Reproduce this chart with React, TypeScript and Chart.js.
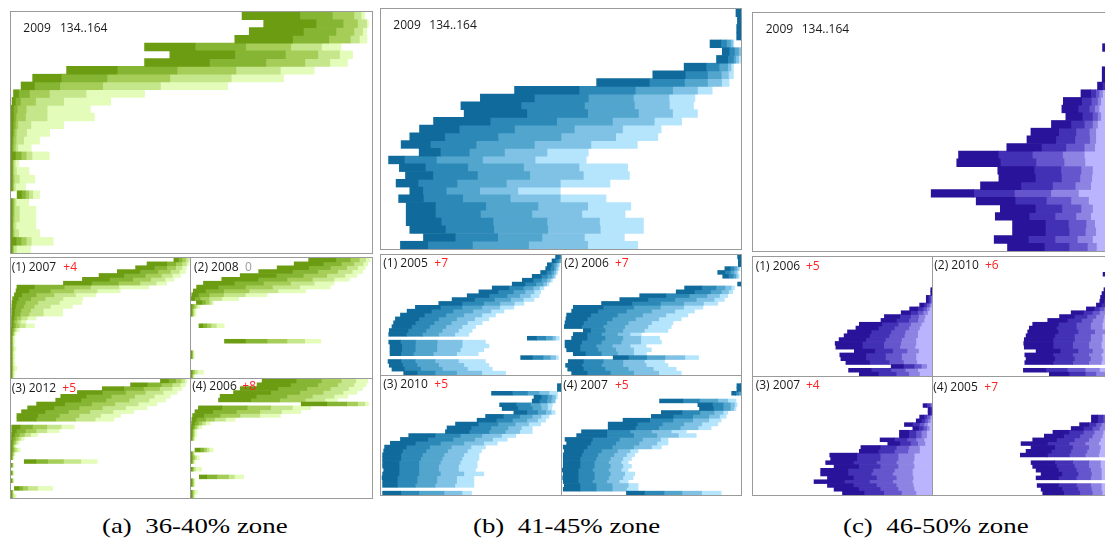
import React, { useEffect, useRef } from 'react';
import { Chart, registerables } from 'chart.js';

Chart.register(...registerables);

// Row categories: days 134..164 of the season, one bar per day.
const dayLabels: string[] = [];
for (let d = 134; d <= 164; d++) dayLabels.push(String(d));

// Each row holds six cumulative boundaries (five stacked layers); [] = no data for that day.
const greens = ['#6b9c12', '#86b533', '#a5cd58', '#c6e68c', '#e3fcb9'];
const blues = ['#106b9c', '#2c88b7', '#52a5cd', '#80c2e5', '#b4e5fd'];
const purples = ['#28139a', '#4331b5', '#6656cd', '#8d83e3', '#bab3fd'];

const zoneA_2009 = [
  [64, 80, 89, 95, 97, 98], [70, 84.5, 92, 96, 98.5, 99], [66, 81, 90, 95, 97.4, 98.5], [62, 78, 88, 94, 96.5, 98.6],
  [37, 51, 65, 77.5, 86, 91.4], [44, 62, 76, 85, 91, 94.6], [37, 55, 70.6, 81.4, 88.3, 93.2], [15.4, 29.4, 46, 62.3, 74.6, 84],
  [6, 13.9, 26.6, 44, 61, 75.5], [2.8, 6.5, 13.5, 25.4, 41.4, 60], [0.7, 2.1, 5.1, 10.6, 20.8, 37], [0.3, 1.2, 2.6, 6.8, 14.6, 27.6],
  [0, 0.7, 1.7, 4.2, 10, 22], [0, 0.7, 1.4, 4, 10, 23.1], [0, 0.6, 1.2, 1.9, 5.5, 14.6], [0, 0.5, 0.9, 1.5, 4.3, 10.7],
  [0, 0.4, 0.7, 1.4, 3.5, 7.9], [0, 0.3, 0.6, 1.2, 1.9, 5.6], [0, 1.2, 2.8, 4.2, 5.8, 10.6], [0, 0.3, 0.5, 0.7, 1.2, 2.1],
  [0, 0.3, 0.5, 0.7, 1.5, 5], [0, 0.3, 0.5, 0.9, 2.3, 6.6], [0, 0.3, 0.5, 0.7, 1.2, 4], [1.7, 2.9, 4, 4.9, 6, 7.9],
  [0, 0.3, 0.6, 0.9, 1.4, 4.9], [0, 0.3, 0.6, 0.9, 2.3, 6.9], [0, 0.3, 0.5, 0.9, 2.3, 6.9], [0, 0.3, 0.5, 0.7, 1.4, 6.9],
  [0, 0.3, 0.5, 0.9, 2.1, 7.9], [0, 1.4, 2.8, 4.2, 5.6, 11.7], [0, 0.3, 0.5, 0.7, 1.5, 5.4],
];
const zoneA_2007 = [
  [91, 93.5, 95.5, 97.5, 99, 100], [76, 87, 92, 95.5, 98, 99.5], [69.6, 80, 87, 92, 95.5, 98], [59.4, 72, 82, 89, 94, 97.4],
  [49.2, 63, 75, 84, 90, 94.6], [39.9, 55, 68, 78, 86, 91], [29.3, 45, 60, 72, 81, 87], [3.3, 13, 29.7, 44.5, 60.3, 77],
  [2.8, 10, 22, 35, 48, 61], [1.9, 6, 14, 24, 36, 47.3], [0.9, 4, 11, 19, 29, 40], [0.6, 3, 8, 15, 27, 39.5],
  [0.5, 2.5, 7, 13, 22, 34.3], [0.4, 2, 5.5, 11, 18, 28.8], [0.4, 2, 5, 10, 18, 28.8], [0.3, 1.5, 3, 5.5, 9, 14],
  [0.3, 1, 2, 3.5, 5.5, 8.3], [0.3, 1.2, 2.5, 4.5, 8, 13], [0.2, 0.6, 1.3, 2.2, 3, 4.6], [0, 0.5, 1, 1.5, 2, 2.8],
  [0, 0.3, 0.6, 0.9, 1.2, 1.9], [0, 0.3, 0.6, 0.9, 1.2, 2.2], [0, 0.3, 0.6, 0.9, 1.2, 1.9], [0, 0.3, 0.6, 1, 1.5, 2.8],
  [0, 0.3, 0.6, 0.9, 1.2, 1.9], [0, 0.3, 0.6, 0.9, 1.2, 2.2], [0, 0.3, 0.6, 0.9, 1.2, 1.9], [0, 0.3, 0.6, 0.9, 1.2, 2.2],
  [0, 0.3, 0.6, 1, 1.6, 3.3], [0, 0.3, 0.6, 0.9, 1.2, 2.2], [0, 0.3, 0.6, 0.9, 1.2, 1.9],
];
const zoneA_2008 = [
  [65, 80, 88, 93, 96.5, 99], [57, 73, 83, 90, 95, 97.6], [47.6, 65, 77, 86, 92, 96.3], [37.4, 56, 70, 81, 89, 94.8],
  [27.2, 47, 62, 75, 85, 91.7], [17, 37, 53, 67, 79, 87.4], [6.9, 24, 40, 55, 68, 79], [3.1, 15, 30, 45, 60, 76.9],
  [1.3, 8, 18, 32, 48, 63.3], [0.4, 4, 10, 18, 30, 42], [0.2, 2, 5, 10, 17, 26.3], [3, 6, 8, 10, 11.5, 12.4],
  [0, 0.5, 1.5, 2.5, 3.5, 5], [0, 0.4, 0.8, 1.2, 1.8, 2.8], [0, 0.4, 0.8, 1.2, 1.8, 2.8], [], [],
  [4.4, 6.5, 8.7, 11, 14, 18.3], [], [], [], [18.5, 30, 42, 53, 62.8, 71.7], [], [],
  [0, 0.3, 0.6, 0.9, 1.2, 1.8], [0, 0.3, 0.6, 0.9, 1.2, 1.8], [], [], [], [0, 0.5, 1, 2, 3.5, 6.9], [0, 0.3, 0.6, 0.9, 1.2, 1.8],
];
const zoneA_2012 = [
  [83.5, 88, 92, 95, 97, 98.3], [66.8, 76, 84, 90, 94.5, 97.4], [51, 63, 74, 83, 90, 95.5], [37.1, 51, 64, 75, 85, 92.8],
  [27.8, 42, 56, 69, 80, 89], [25, 39, 53, 66, 77, 86.3], [14.3, 30, 45, 58, 71, 81.6], [9.3, 24, 38, 51, 64, 76],
  [5.9, 19, 32, 44, 57, 68.6], [3.3, 15, 27, 38, 50, 61.2], [3.3, 14, 25, 36, 47, 57.5], [],
  [0.4, 5, 12, 20, 28, 35.3], [0.4, 3, 8, 14, 20, 26.9], [0.3, 2, 4.5, 7.5, 11, 14.8], [0.3, 1, 2.5, 4, 5.5, 7.4],
  [0.2, 0.8, 1.6, 2.5, 3.5, 4.6], [0, 0.5, 1, 1.5, 2, 2.8], [0, 0.6, 1.3, 2.2, 3.5, 5.2], [0, 0.4, 0.8, 1.2, 1.6, 2.2],
  [0, 0.3, 0.6, 0.9, 1.2, 1.6], [7.4, 13.9, 20.4, 29.3, 39, 48.2], [0, 0.3, 0.6, 0.9, 1.2, 1.6], [],
  [0, 0.3, 0.6, 0.9, 1.2, 1.6], [], [0, 0.3, 0.6, 0.9, 1.2, 1.6], [], [1.9, 4.5, 6.5, 9.3, 14.8, 23.2],
  [0, 0.3, 0.6, 0.9, 1.2, 1.6], [0, 0.3, 0.6, 1, 1.6, 2.8],
];
const zoneA_2006 = [
  [39.3, 58, 72, 83, 91, 97.6], [36.5, 55, 70, 81, 90, 96.7], [27.2, 48, 64, 77, 87, 94.8], [23.5, 44, 60, 73, 84, 91.7],
  [16.1, 36, 53, 67, 79, 86.5], [15.2, 33, 49, 63, 74, 80.9], [60.9, 75, 86, 92, 96, 98], [4.1, 17, 31, 44, 56, 66.1],
  [2.2, 12, 25, 38, 50, 60.6], [0.9, 7, 16, 27, 38, 49.4], [0.5, 3, 8, 13, 19, 24.4], [0.3, 2, 4, 6, 8, 10.6],
  [0.2, 1, 2, 3, 4, 5.9], [0, 0.5, 1, 1.5, 2, 3.1], [0, 0.5, 1, 1.5, 2, 3.1], [0, 0.4, 0.8, 1.2, 1.6, 2.2], [], [],
  [2.2, 5, 7, 8.5, 10, 12.2], [0, 0.4, 0.8, 1.2, 1.6, 2.2], [0, 0.5, 1, 2, 3, 4.6], [0, 0.4, 0.8, 1.2, 1.6, 2.2], [],
  [0, 0.5, 1, 1.5, 2.5, 5.9], [], [4.6, 8.7, 14.3, 20.7, 24, 29.1], [0, 0.4, 0.8, 1.2, 1.6, 2.2],
  [0, 0.4, 0.8, 1.2, 1.6, 2.2], [], [0, 0.4, 0.8, 1.2, 2, 3.5], [0, 0.4, 0.8, 1.2, 1.6, 2.2],
];

const zoneB_2009 = [
  [98.6, 100, 100, 100, 100, 100], [99, 100, 100, 100, 100, 100], [98.8, 100, 100, 100, 100, 100], [98.8, 100, 100, 100, 100, 100],
  [91.4, 94.4, 96, 97.1, 97.7, 98], [94.8, 96.7, 98.2, 99.3, 100, 100], [93.2, 96.3, 97.9, 98.5, 99.3, 100], [84.2, 90.3, 93.9, 96.3, 97.2, 97.9],
  [75.5, 84.5, 90.7, 94.5, 96.5, 97.9], [59.9, 74.5, 84.3, 90.7, 94.6, 96.7], [37.1, 55, 70.6, 81, 87.9, 92], [27.6, 42.6, 57.6, 70.1, 80, 87.2],
  [22.2, 38.9, 56.5, 70.4, 80.1, 86.8], [23.1, 40.5, 57.4, 71.5, 81, 87.9], [14.6, 30.3, 48.8, 64.3, 75.9, 83.5], [10.7, 21.7, 37.1, 53.7, 67.1, 77.8],
  [8, 17.7, 32.5, 50, 65.2, 76.9], [5.6, 13.7, 26.4, 42.6, 58.3, 71.2], [10.6, 16.5, 24.5, 34.3, 46.1, 57.6], [2.1, 6.5, 15.4, 28.2, 42.8, 57],
  [5.1, 12.3, 24.1, 39.6, 55, 68.5], [6.8, 14.4, 26.8, 41.3, 56.2, 69], [4.2, 10.3, 21.1, 34.8, 49.8, 63.6], [8, 11.6, 18.1, 27.4, 38, 49.8],
  [4.9, 11.8, 22.7, 35.9, 49.8, 62.5], [7, 15.1, 29.1, 43.6, 57.4, 69.4], [7, 15.1, 27.6, 41.9, 55.8, 67.8], [7, 16.7, 31.1, 46.1, 60.7, 72.9],
  [8, 17.9, 31.3, 46.3, 60.9, 72.9], [11.8, 20.6, 32.4, 44.7, 56.5, 67.6], [5.4, 13, 25.4, 41, 57.4, 71.3],
];
const zoneB_2005 = [
  [97, 99, 100, 100, 100, 100], [95, 97, 98.5, 99.5, 100, 100], [92.4, 94.5, 96, 97.5, 98.5, 99.3], [91.5, 94, 96, 97, 98, 98.9],
  [88.7, 92, 94.5, 96, 97.2, 98], [84, 89, 92.5, 95, 96.2, 97], [78.5, 84.5, 89, 92, 94, 95.2], [72.9, 80, 86, 90, 92, 93.3],
  [61.8, 71, 79, 84.5, 88, 90.5], [54.4, 65, 73.5, 80, 85, 88.7], [47.9, 60, 70, 77, 83, 87.8], [39.5, 52, 63, 72, 79, 85],
  [32.1, 45, 57, 66, 74, 79.4], [19.1, 33, 45, 56, 66, 73.8], [14.5, 28, 40, 51, 61, 68.3], [10.8, 24, 36, 46, 56, 63.6],
  [8, 21, 32, 42, 52, 59.9], [7, 19, 29.5, 39, 48, 56.2], [6.1, 17, 27, 36, 45, 52.5], [4.6, 15, 25, 34, 43, 50.6],
  [4.3, 14, 23, 32, 41, 48.8], [81.3, 86.3, 91.5, 95.2, 97, 99], [4.3, 10.8, 19.1, 31.2, 45.1, 58], [5, 11.5, 19, 31, 45, 60],
  [5, 11.5, 19, 31, 44, 57], [5, 11, 18, 29, 42, 54], [77.6, 84, 90, 94, 97, 98.5], [3.9, 11, 19, 30, 43, 58],
  [4.6, 12, 20, 32, 46, 59.9], [6.1, 13, 22, 34, 48, 61.8], [12.6, 20, 30, 42, 56, 69.2],
];
const zoneB_2006 = [
  [98.1, 100, 100, 100, 100, 100], [98.5, 100, 100, 100, 100, 100], [98.5, 100, 100, 100, 100, 100], [91, 94, 96, 97.5, 98.5, 99.5],
  [87, 91, 94, 96, 97.5, 98.5], [89.8, 93, 95.5, 97, 98, 99], [], [98.1, 100, 100, 100, 100, 100],
  [68.5, 78, 86, 91, 94.5, 96.3], [63.8, 74, 83, 89, 93, 95.4], [43.4, 58, 71, 81, 88, 92.6], [32.3, 48, 63, 75, 85, 90.7],
  [22.1, 39, 55, 68, 79, 87], [6.3, 23, 40, 55, 68, 78.7], [5.4, 20, 36, 50, 63, 74], [2.6, 16, 31, 45, 58, 70.3],
  [2.2, 14, 28, 41, 54, 66.6], [1.7, 12, 25, 37, 50, 62], [1.3, 11, 23, 35, 48, 61], [11.9, 16, 24, 34, 46, 59.2],
  [6.3, 14, 22, 31, 38, 44.3], [5.4, 14, 24, 34, 44, 54.5], [1.7, 11, 22, 33, 44, 55.5], [1.7, 10, 19, 28, 38, 47],
  [2.6, 10, 20, 30, 40, 49.9], [6.3, 13, 22, 31, 40, 47.1], [28.6, 37, 47.3, 57.5, 68.6, 76.3], [3.5, 12, 23, 34, 46, 57.3],
  [2, 11, 22, 34, 47, 59.2], [3.2, 12, 24, 37, 51, 63.8], [5.4, 14, 27, 40, 54, 66.6],
];
const zoneB_2010 = [
  [], [], [98, 100, 100, 100, 100, 100], [98, 100, 100, 100, 100, 100],
  [61.4, 72.9, 81.3, 87.8, 93.3, 98], [85, 89, 92.5, 95, 97, 98], [84, 88, 92, 94.5, 96.5, 97], [65.9, 75, 83, 88.5, 92.5, 95.2],
  [67.3, 76, 84, 89, 92.5, 94.8], [73.8, 81, 87, 91.5, 94.5, 96.7], [58.1, 68, 77, 84, 89, 93.3], [53.4, 64, 73, 81, 87, 91.5],
  [41.4, 54, 65, 74.5, 82, 88.7], [36.7, 50, 61, 70.5, 78, 84], [35.8, 49, 60, 69, 77, 84], [15.4, 30, 44, 56, 67, 74.8],
  [10.8, 26, 40, 52, 62, 70.1], [5.2, 19, 33, 46, 57, 64.6], [2, 14, 27, 39, 50, 58], [1.5, 12, 25, 37, 48, 55.8],
  [0.9, 11, 23, 35, 46, 54.4], [0.9, 11, 22, 34, 45, 54.4], [0.9, 10, 21, 33, 44, 53.4], [0.9, 10, 21, 32, 43, 53.4],
  [1.5, 10, 21, 32, 43, 52.5], [0.9, 10, 21, 33, 46, 57.1], [0.6, 9, 20, 31, 42, 51.6], [0.9, 9, 20, 31, 42, 51.6],
  [0.9, 9, 19, 30, 41, 51.6], [], [0.9, 11, 21, 35, 45, 50.3],
];
const zoneB_2007 = [
  [], [], [97.7, 100, 100, 100, 100, 100], [97.7, 100, 100, 100, 100, 100],
  [94.8, 97, 98.5, 100, 100, 100], [], [54.5, 67.5, 76.8, 87, 92.6, 97.2], [75.9, 84, 90, 94, 96.5, 97.8],
  [76.8, 84.5, 90, 94, 96, 97.2], [55.5, 67, 77, 85, 90, 92.6], [49.9, 62, 73, 82, 88, 91.7], [34.1, 49, 62, 73, 82, 88.9],
  [25.8, 42, 56, 68, 78, 87], [25.8, 41, 54, 66, 76, 83.3], [10.9, 25, 38, 50, 61, 69.4], [8.2, 25, 40, 53, 65, 75],
  [1.7, 17, 32, 45, 55, 59.2], [2.6, 16, 30, 43, 53, 59.2], [0.7, 14, 28, 40, 50, 55.5], [1.3, 12, 22, 31, 38, 42.5],
  [0.7, 11, 20, 29, 36, 40.6], [0.7, 10, 19, 27, 34, 38.8], [0.7, 10, 18, 26, 33, 36.9], [0.7, 10, 18, 27, 34, 38.8],
  [0.2, 9, 17, 26, 33, 36.9], [0.7, 9, 18, 27, 35, 40.6], [0.4, 9, 18, 26, 34, 39.7], [0.7, 9, 17, 25, 32, 36.9],
  [1.3, 10, 19, 28, 37, 42.5], [0.7, 10, 19, 28, 36, 42.5], [36, 46, 57, 67, 78, 88.9],
];

const zoneC_2009 = [
  [], [], [], [], [97.1, 99, 100, 100, 100, 100], [], [],
  [97, 98.5, 99.5, 100, 100, 100], [97, 98.5, 99.5, 100, 100, 100], [95.7, 97.1, 98, 99, 100, 100],
  [91.1, 93.8, 95.2, 96.1, 97.1, 100], [86.2, 91.3, 94, 95.7, 96.6, 100], [85.8, 90.3, 93.4, 94.9, 96.1, 100],
  [86.9, 91.5, 94.3, 95.7, 96.6, 100], [82.9, 88.3, 92, 94.3, 95.7, 100], [77.2, 84.9, 89.7, 93.4, 95.2, 100],
  [76.1, 84.1, 89.4, 93.5, 95.2, 100], [70.5, 80.1, 86.9, 92, 94.9, 100], [57.1, 68.1, 77.6, 86, 92, 100],
  [56.6, 68.7, 78.6, 86.4, 92.2, 100], [68, 78.1, 85.5, 91.1, 94.3, 100], [68.3, 78.4, 85.7, 90.8, 94.1, 100],
  [63.2, 74.4, 83.2, 89.5, 93.8, 100], [49.5, 61.3, 72.6, 82.7, 90.4, 100], [62, 72.8, 81.5, 88.3, 93.2, 100],
  [68.7, 78.4, 85.8, 91.1, 94.3, 100], [67.3, 76.7, 83.9, 89.7, 93.8, 100], [72.1, 81.2, 87.6, 92.5, 94.9, 100],
  [72.1, 81.2, 87.8, 92.3, 95.2, 100], [67, 76.5, 83.9, 90.1, 94.3, 100], [70.7, 80.9, 87.8, 92.9, 95.4, 100],
];
const zoneC_2006 = [
  [], [], [], [], [], [], [], [],
  [99.3, 100, 100, 100, 100, 100], [99.3, 100, 100, 100, 100, 100], [96.8, 98, 99, 99.5, 100, 100], [96.8, 98, 99, 99.5, 100, 100],
  [93.1, 95.5, 97, 98.5, 99.5, 100], [87.5, 92, 95, 97, 98.5, 100], [82.8, 88, 92, 95, 97.5, 100], [73.4, 82, 88, 92.5, 96, 100],
  [71.5, 80, 87, 92, 95.5, 100], [59.4, 72, 81, 88, 94, 100], [57.5, 70, 79, 87, 93, 100], [52.8, 66, 77, 85, 92, 100],
  [50.9, 65, 76, 84.5, 92, 100], [48.1, 63, 74, 83, 91, 100], [45.9, 61, 73, 82.5, 91, 100], [46.3, 61, 73, 82, 90.5, 100],
  [56.6, 68, 78, 86, 92.5, 100], [48.5, 63, 74, 83, 91, 100], [49.1, 63, 74, 83, 91, 100], [51.9, 65, 76, 84, 91.5, 100],
  [77.2, 84, 90, 94, 97, 100], [53.4, 66, 77, 85, 92, 100], [59.4, 70, 80, 87, 93, 100],
];
const zoneC_2010 = [
  [], [], [], [], [95, 97, 98, 99, 100, 100], [], [], [],
  [95.5, 97, 98, 99, 100, 100], [94.4, 96.5, 98, 99, 100, 100], [93.6, 96, 97.5, 98.5, 99.5, 100], [93.2, 95.5, 97, 98.5, 99.5, 100],
  [91.3, 94, 96, 97.5, 99, 100], [85.7, 90, 93, 95.5, 98, 100], [77.2, 84, 89, 93, 96.5, 100], [70.7, 79, 86, 91, 95.5, 100],
  [64.1, 75, 83, 89, 95, 100], [55.7, 70, 80, 88, 94.5, 100], [53.8, 69, 80, 88, 94.5, 100], [52.9, 69.8, 81, 90.3, 96, 100],
  [52, 68, 79, 88, 94.5, 100], [51, 67, 79, 88, 94.5, 100], [50.7, 67, 78, 87, 94, 100], [51, 67, 78, 87, 94, 100],
  [57.6, 71, 81, 89, 95, 100], [51.3, 67, 78, 87, 94, 100], [52, 68, 79, 88, 94.5, 100], [51.3, 67, 78, 87, 94, 100],
  [], [50.5, 63, 75, 85, 93, 100], [65, 76, 85, 91, 96, 100],
];
const zoneC_2007 = [
  [], [], [], [], [], [], [],
  [95, 97, 98.5, 99.5, 100, 100], [97.8, 99, 100, 100, 100, 100], [97.8, 99, 100, 100, 100, 100], [93.1, 95.5, 97, 98.5, 99.5, 100],
  [91.2, 94, 96, 97.5, 99, 100], [84.6, 89, 93, 95.5, 97.5, 100], [89.3, 92.5, 95, 97, 98.5, 100], [81.8, 87, 91, 94, 97, 100],
  [81.8, 87, 91, 94, 97, 100], [71, 79, 86, 91, 95.5, 100], [75.3, 82, 88, 92, 96, 100], [60.3, 71, 80, 87, 93, 100],
  [59.4, 70, 79, 86.5, 93, 100], [42.9, 58, 71, 81, 90, 100], [43.4, 58, 71, 81, 90, 100], [40.6, 56, 69, 80, 89.5, 100],
  [45.3, 59, 71, 81, 90, 100], [37.8, 53, 67, 79, 89, 100], [37.8, 53, 66, 78, 89, 100], [41.6, 56, 69, 80, 89.5, 100],
  [34.1, 51, 65, 78, 89, 100], [41.6, 56, 69, 80, 89.5, 100], [45.3, 59, 71, 81, 90, 100], [50, 62, 73, 83, 91, 100],
];
const zoneC_2005 = [
  [], [], [], [], [], [], [], [], [], [],
  [88.5, 92, 95, 97, 98.5, 100], [88.5, 92, 95, 97, 98.5, 100], [81.9, 87, 91, 94, 97, 100], [77.2, 84, 89, 93, 96.5, 100],
  [67, 76, 84, 90, 95, 100], [62.2, 73, 82, 89, 94.5, 100], [55.7, 69, 79, 87, 93.5, 100], [49.2, 64, 76, 85, 92.5, 100],
  [54.8, 68, 78, 87, 93.5, 100], [52, 66, 77, 86, 93, 100], [48.8, 64, 76, 85, 92.5, 100], [],
  [54.8, 68, 78, 87, 93.5, 100], [55.7, 69, 79, 87, 93.5, 100], [57.6, 70, 80, 88, 94, 100], [60.4, 72, 81, 88.5, 94, 100],
  [57.6, 70, 80, 88, 94, 100], [], [58.2, 70, 80, 88, 94, 100], [60.4, 72, 81, 88.5, 94, 100], [61.3, 73, 82, 89, 94.5, 100],
];

// Panel frames: [left, top, width, height] of each bordered box.
type Panel = { rows: number[][]; colors: string[]; box: [number, number, number, number] };
const panels: Panel[] = [
  { rows: zoneA_2009, colors: greens, box: [10, 11, 363, 243] },
  { rows: zoneA_2007, colors: greens, box: [10, 257, 181, 122] },
  { rows: zoneA_2008, colors: greens, box: [190, 257, 183, 122] },
  { rows: zoneA_2012, colors: greens, box: [10, 378, 181, 121] },
  { rows: zoneA_2006, colors: greens, box: [190, 378, 183, 121] },
  { rows: zoneB_2009, colors: blues, box: [380, 8, 362, 242] },
  { rows: zoneB_2005, colors: blues, box: [380, 254, 182, 122] },
  { rows: zoneB_2006, colors: blues, box: [561, 254, 181, 122] },
  { rows: zoneB_2010, colors: blues, box: [380, 375, 182, 121] },
  { rows: zoneB_2007, colors: blues, box: [561, 375, 181, 121] },
  { rows: zoneC_2009, colors: purples, box: [752, 12, 362, 240] },
  { rows: zoneC_2006, colors: purples, box: [752, 256, 181, 121] },
  { rows: zoneC_2010, colors: purples, box: [932, 256, 181, 121] },
  { rows: zoneC_2007, colors: purples, box: [752, 376, 181, 120] },
  { rows: zoneC_2005, colors: purples, box: [932, 376, 181, 120] },
];

// Panel titles: [x, baseline, text, colour]
const titleParts: [number, number, string, string][] = [
  [23.3, 32.5, '2009', '#1a1a1a'], [60, 32.5, '134..164', '#1a1a1a'],
  [393.3, 29.3, '2009', '#1a1a1a'], [429.3, 29.3, '134..164', '#1a1a1a'],
  [765.7, 33.3, '2009', '#1a1a1a'], [801.7, 33.3, '134..164', '#1a1a1a'],
  [11.7, 271.7, '(1) 2007', '#1a1a1a'], [63.3, 271.7, '+4', '#ff2222'],
  [194, 271.7, '(2) 2008', '#1a1a1a'], [245, 271.7, '0', '#9a9a9a'],
  [11.7, 392.7, '(3) 2012', '#1a1a1a'], [62.3, 392.7, '+5', '#ff2222'],
  [192.3, 391, '(4) 2006', '#1a1a1a'], [242.3, 391, '+8', '#ff2222'],
  [383.3, 267.7, '(1) 2005', '#1a1a1a'], [434.3, 267.7, '+7', '#ff2222'],
  [564.3, 267.7, '(2) 2006', '#1a1a1a'], [615, 267.7, '+7', '#ff2222'],
  [383.3, 389, '(3) 2010', '#1a1a1a'], [434.3, 389, '+5', '#ff2222'],
  [563.3, 390, '(4) 2007', '#1a1a1a'], [615, 390, '+5', '#ff2222'],
  [755.7, 271, '(1) 2006', '#1a1a1a'], [806, 271, '+5', '#ff2222'],
  [934.3, 270, '(2) 2010', '#1a1a1a'], [985, 270, '+6', '#ff2222'],
  [755.7, 390, '(3) 2007', '#1a1a1a'], [806, 390, '+4', '#ff2222'],
  [933.3, 391.7, '(4) 2005', '#1a1a1a'], [984.3, 391.7, '+7', '#ff2222'],
];

const captions: [number, string][] = [
  [101.7, '(a)\u00a0 36-40% zone'],
  [472.5, '(b)\u00a0 41-45% zone'],
  [843.3, '(c)\u00a0 46-50% zone'],
];

function LayerBars({ rows, colors, width, height }: { rows: number[][]; colors: string[]; width: number; height: number }) {
  const ref = useRef<HTMLCanvasElement>(null);
  useEffect(() => {
    const chart = new Chart(ref.current as HTMLCanvasElement, {
      type: 'bar',
      data: {
        labels: dayLabels,
        datasets: colors.map((c, k) => ({
          data: rows.map((r) => (r.length ? [r[k], r[k + 1]] : null)) as any,
          backgroundColor: c,
          borderWidth: 0,
          barPercentage: 1,
          categoryPercentage: 1,
          grouped: false,
        })),
      },
      options: {
        indexAxis: 'y',
        animation: false,
        responsive: false,
        maintainAspectRatio: false,
        events: [],
        layout: { padding: 0 },
        plugins: { legend: { display: false }, tooltip: { enabled: false } },
        scales: {
          x: { min: 0, max: 100, display: false },
          y: { display: false },
        },
      },
    });
    return () => chart.destroy();
  }, []);
  return <canvas ref={ref} width={width} height={height} style={{ display: 'block', width, height }} />;
}

export default function App() {
  return (
    <div style={{ position: 'fixed', left: 0, top: 0, width: 1105, height: 543, overflow: 'hidden', background: '#fff' }}>
      {panels.map((p, i) => {
        const [l, t, w, h] = p.box;
        return (
          <div
            key={i}
            style={{
              position: 'absolute', left: l, top: t, width: w, height: h,
              border: '1px solid #9a9a9a', boxSizing: 'border-box', overflow: 'hidden',
            }}
          >
            <LayerBars rows={p.rows} colors={p.colors} width={w - 2} height={h - 2} />
          </div>
        );
      })}
      {titleParts.map(([x, base, text, color], i) => (
        <div
          key={'t' + i}
          style={{
            position: 'absolute', left: x, top: base - 10.7, lineHeight: '12px', fontSize: 12,
            fontFamily: '"Open Sans", sans-serif', color, whiteSpace: 'pre',
          }}
        >
          {text}
        </div>
      ))}
      {captions.map(([x, text], i) => (
        <div
          key={'c' + i}
          style={{
            position: 'absolute', left: x, top: 515, lineHeight: '22px', fontSize: 22,
            fontFamily: '"Liberation Serif", "Times New Roman", serif', color: '#000', whiteSpace: 'pre',
            transform: 'scaleX(1.22)', transformOrigin: 'left center',
          }}
        >
          {text}
        </div>
      ))}
    </div>
  );
}
